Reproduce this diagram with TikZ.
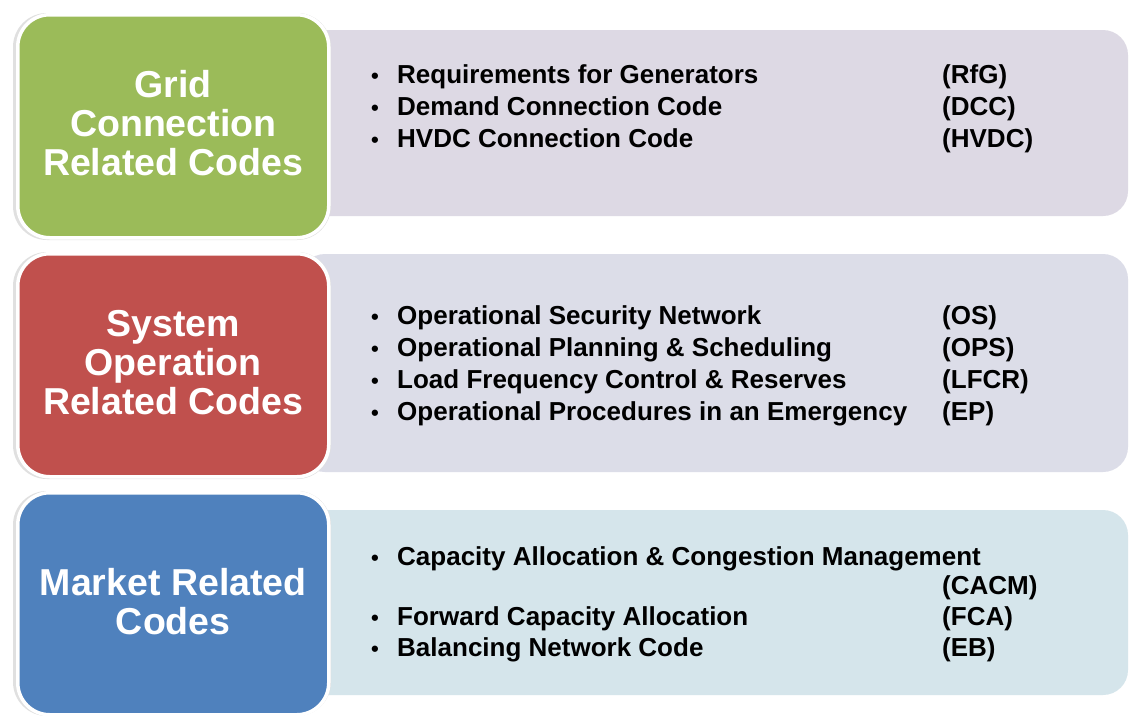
\documentclass[tikz,border=0pt]{standalone}
\usepackage{fontspec}
\setmainfont{Liberation Sans}
\begin{document}
\begin{tikzpicture}[x=1pt,y=-1pt,
  panel/.style={rounded corners=32pt, draw=white, line width=3.5pt},
  title/.style={text=white, font=\fontsize{37.5}{39}\selectfont\bfseries, align=center, inner sep=0pt},
  listbox/.style={rounded corners=25pt},
  item/.style={anchor=base west, font=\fontsize{26}{30}\selectfont\bfseries, inner sep=0pt},
  bul/.style={anchor=base, font=\fontsize{22}{30}\selectfont\bfseries, inner sep=0pt},
]
\definecolor{gr}{HTML}{9BBB59}
\definecolor{rd}{HTML}{C0504D}
\definecolor{bl}{HTML}{4F81BD}
\definecolor{lb1}{HTML}{DDD9E4}
\definecolor{lb2}{HTML}{DCDDE8}
\definecolor{lb3}{HTML}{D5E5EB}
\useasboundingbox (0,0) rectangle (1129,715);
\fill[white] (0,0) rectangle (1129,715);
% list boxes
\fill[lb1, listbox] (300,30) rectangle (1128,216);
\fill[lb2, listbox] (300,254) rectangle (1128,472);
\fill[lb3, listbox] (300,510) rectangle (1128,695);
% shadows
\foreach \ya/\yb in {12/238, 251/477, 490/714}{
  \fill[black!12, rounded corners=34pt] (13,\ya+1) rectangle (331,\yb+2);
}
% panels
\node[panel, fill=gr, minimum width=311pt, minimum height=223pt, anchor=north west] (p1) at (16,13) {};
\node[panel, fill=rd, minimum width=311pt, minimum height=223pt, anchor=north west] (p2) at (16,252) {};
\node[panel, fill=bl, minimum width=311pt, minimum height=222pt, anchor=north west] (p3) at (16,491) {};
\node[title] (t1) at ([yshift=3pt]p1.center) {Grid\\Connection\\Related Codes};
\node[title] (t2) at ([yshift=3pt]p2.center) {System\\Operation\\Related Codes};
\node[title] (t3) at ([yshift=2pt]p3.center) {Market Related\\Codes};
% items
\foreach \t/\a/\y [count=\i] in {
  Requirements for Generators/(RfG)/83,
  Demand Connection Code/(DCC)/115,
  HVDC Connection Code/(HVDC)/147,
  Operational Security Network/(OS)/324,
  Operational Planning \& Scheduling/(OPS)/356,
  Load Frequency Control \& Reserves/(LFCR)/388,
  Operational Procedures in an Emergency/(EP)/420,
  Forward Capacity Allocation/(FCA)/625,
  Balancing Network Code/(EB)/656}{
  \node[bul] (b\i) at (375,\y) {•};
  \node[item] (i\i) at (397,\y) {\t};
  \node[item] (a\i) at (942,\y) {\a};
}
\node[bul] (b10) at (375,565) {•};
\node[item] (i10) at (397,565) {Capacity Allocation \& Congestion Management};
\node[item] (a10) at (942,594) {(CACM)};
\end{tikzpicture}
\end{document}
